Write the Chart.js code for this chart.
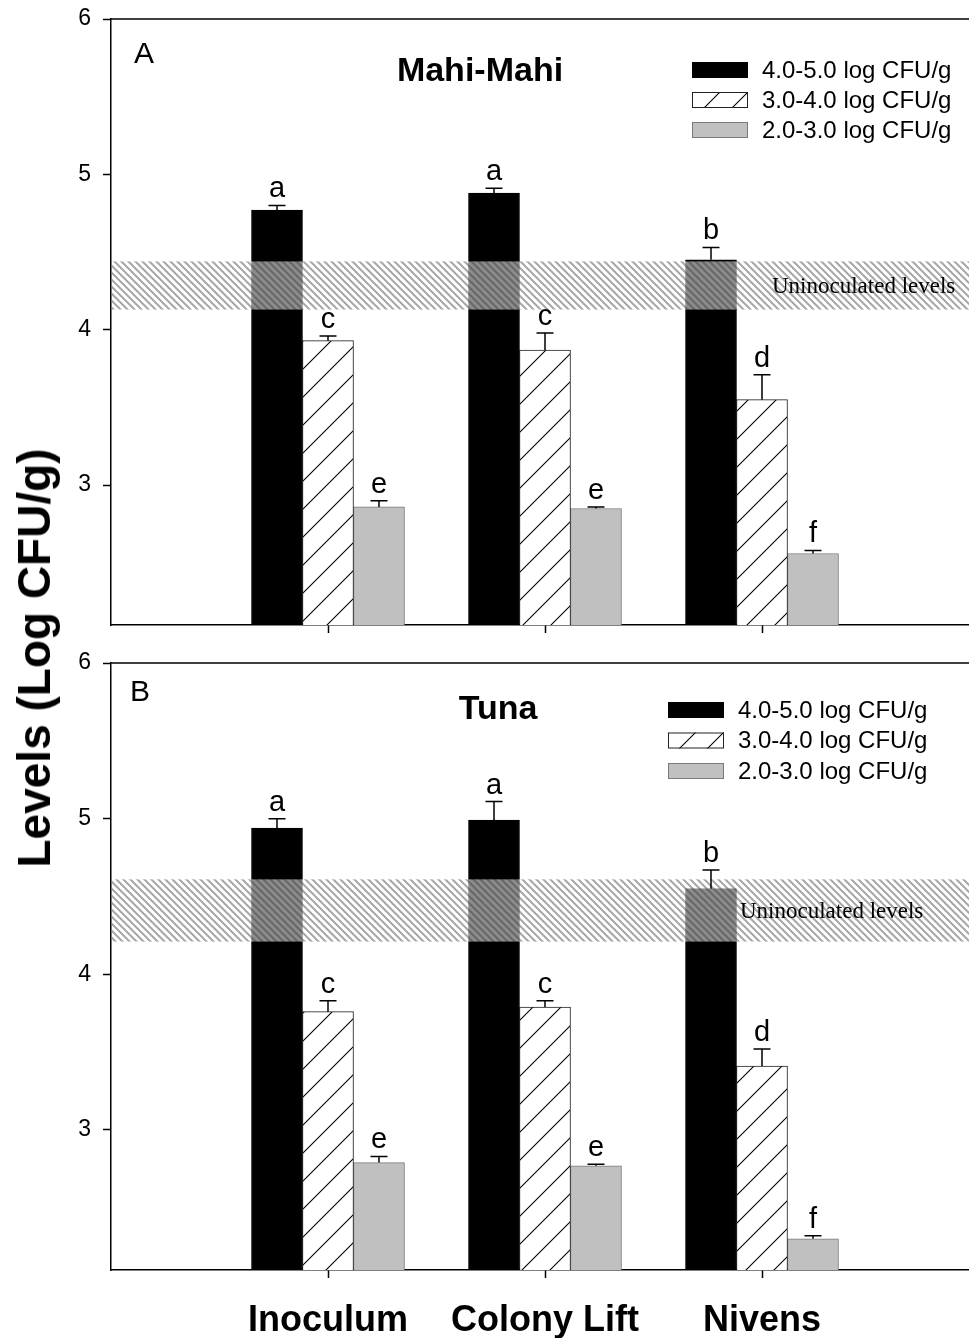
<!DOCTYPE html>
<html><head><meta charset="utf-8">
<script src="https://cdn.jsdelivr.net/npm/chart.js@4.4.1/dist/chart.umd.min.js"></script>
<style>
html,body{margin:0;padding:0;overflow:hidden;background:#fff;width:969px;height:1338px}
#wrap{position:relative;width:969px;height:1338px;overflow:hidden;background:#fff}
#c1{position:absolute;left:0;top:0}
#c2{position:absolute;left:0;top:644px}
#ytitle{position:absolute;left:34px;top:658px;transform:translate(-50%,-50%) rotate(-90deg);font:bold 46px "Liberation Sans",Arial,sans-serif;white-space:nowrap;color:#000}
</style></head><body>
<div id="wrap">
<canvas id="c1" width="1000" height="650"></canvas>
<canvas id="c2" width="1000" height="694"></canvas>
<div id="ytitle">Levels (Log CFU/g)</div>
</div>
<script>
// ---- data ----
const categories = ['Inoculum', 'Colony Lift', 'Nivens'];
const seriesLabels = ['4.0-5.0 log CFU/g', '3.0-4.0 log CFU/g', '2.0-3.0 log CFU/g'];
const yTicks = [3, 4, 5, 6];

const mahiHigh = [4.77, 4.88, 4.45];
const mahiMid  = [3.93, 3.87, 3.55];
const mahiLow  = [2.86, 2.85, 2.56];
const mahiHighErr = [0.03, 0.03, 0.08];
const mahiMidErr  = [0.03, 0.11, 0.16];
const mahiLowErr  = [0.04, 0.01, 0.02];
const mahiLetters = [['a','a','b'], ['c','c','d'], ['e','e','f']];
const mahiBand = [4.13, 4.44];

const tunaHigh = [4.94, 4.99, 4.55];
const tunaMid  = [3.76, 3.79, 3.41];
const tunaLow  = [2.79, 2.77, 2.30];
const tunaHighErr = [0.06, 0.12, 0.12];
const tunaMidErr  = [0.07, 0.04, 0.11];
const tunaLowErr  = [0.04, 0.01, 0.02];
const tunaLetters = [['a','a','b'], ['c','c','d'], ['e','e','f']];
const tunaBand = [4.21, 4.61];

// ---- patterns ----
const tmp = document.createElement('canvas').getContext('2d');
function makeHatch() {
  const t = document.createElement('canvas'); t.width = 28; t.height = 28;
  const g = t.getContext('2d');
  g.fillStyle = '#fff'; g.fillRect(0, 0, 28, 28);
  g.strokeStyle = '#000'; g.lineWidth = 1.1;
  g.beginPath();
  for (const o of [-28, 0, 28]) { g.moveTo(o - 1, 29); g.lineTo(o + 29, -1); }
  g.stroke();
  return tmp.createPattern(t, 'repeat');
}
function makeBand() {
  const t = document.createElement('canvas'); t.width = 7; t.height = 7;
  const g = t.getContext('2d');
  g.fillStyle = 'rgba(255,255,255,0.55)'; g.fillRect(0, 0, 7, 7);
  g.strokeStyle = 'rgba(60,60,60,0.45)'; g.lineWidth = 2;
  g.beginPath();
  for (const o of [-7, 0, 7]) { g.moveTo(o - 1, -1); g.lineTo(o + 8, 8); }
  g.stroke();
  return tmp.createPattern(t, 'repeat');
}
const hatch = makeHatch();
const bandPat = makeBand();

const fills = ['#000000', hatch, '#c0c0c0'];
const borders = ['#000000', '#222222', '#7a7a7a'];
const SANS = '"Liberation Sans", Arial, sans-serif';

const panelPlugin = {
  id: 'panel',
  afterDatasetsDraw(chart, args, o) {
    const { ctx, chartArea: ca, scales: { x, y } } = chart;
    ctx.save();
    // band
    const yt = y.getPixelForValue(o.band[1]), yb = y.getPixelForValue(o.band[0]);
    ctx.fillStyle = bandPat;
    ctx.fillRect(ca.left + 1, yt, chart.width - ca.left, yb - yt);
    ctx.fillStyle = '#000';
    ctx.font = '23px "Liberation Serif", "Times New Roman", serif';
    ctx.textAlign = 'left'; ctx.textBaseline = 'middle';
    ctx.fillText('Uninoculated levels', o.bandTextX, (yt + yb) / 2 + 1);
    // error bars & letters
    o.values.forEach((vals, di) => {
      const meta = chart.getDatasetMeta(di);
      vals.forEach((v, j) => {
        const el = meta.data[j + 1];
        const xc = el.x, half = el.width / 6;
        const y0 = y.getPixelForValue(v), y1 = y.getPixelForValue(v + o.errs[di][j]);
        ctx.strokeStyle = '#000'; ctx.lineWidth = 1.5;
        ctx.beginPath();
        ctx.moveTo(xc, y0); ctx.lineTo(xc, y1);
        ctx.moveTo(xc - half, y1); ctx.lineTo(xc + half, y1);
        ctx.stroke();
        ctx.fillStyle = '#000';
        ctx.font = '29px ' + SANS;
        ctx.textAlign = 'center'; ctx.textBaseline = 'alphabetic';
        ctx.fillText(o.letters[di][j], xc, y1 - 8);
      });
    });
    // top frame line
    ctx.strokeStyle = '#000'; ctx.lineWidth = 1.5;
    ctx.beginPath(); ctx.moveTo(ca.left, ca.top); ctx.lineTo(chart.width, ca.top); ctx.stroke();
    // panel letter and title
    ctx.fillStyle = '#000';
    ctx.font = '30px ' + SANS; ctx.textAlign = 'left'; ctx.textBaseline = 'middle';
    ctx.fillText(o.panel, o.panelX, o.panelY);
    ctx.font = 'bold 34px ' + SANS; ctx.textAlign = 'center';
    ctx.fillText(o.title, o.titleX, o.titleY);
    // legend
    ctx.font = '24px ' + SANS; ctx.textAlign = 'left';
    seriesLabels.forEach((lab, i) => {
      const by = o.legY + i * o.legStep;
      ctx.fillStyle = fills[i];
      ctx.fillRect(o.legX, by, 56, 16);
      ctx.strokeStyle = borders[i]; ctx.lineWidth = 1;
      ctx.strokeRect(o.legX + 0.5, by + 0.5, 55, 15);
      ctx.fillStyle = '#000';
      ctx.fillText(lab, o.legX + 70, by + 9);
    });
    ctx.restore();
  }
};

function makeChart(id, vals, errs, letters, band, cfg) {
  const ctx = document.getElementById(id);
  return new Chart(ctx, {
    type: 'bar',
    data: {
      labels: ['', ...categories, ''],
      datasets: vals.map((v, i) => ({
        label: seriesLabels[i],
        data: [null, ...v, null],
        backgroundColor: fills[i],
        borderColor: borders[i],
        borderWidth: 1,
        barThickness: 51
      }))
    },
    options: {
      responsive: false, animation: false, devicePixelRatio: 1,
      layout: { padding: { left: 0, top: 19, right: 21, bottom: 0 } },
      plugins: {
        legend: { display: false }, tooltip: { enabled: false },
        panel: Object.assign({ values: vals, errs, letters, band }, cfg)
      },
      scales: {
        x: {
          type: 'category', offset: false,
          grid: { offset: false, drawOnChartArea: false, drawTicks: true, tickLength: 8, tickWidth: 1.5,
                  tickColor: c => (c.index === 0 || c.index === 4) ? 'rgba(0,0,0,0)' : '#000' },
          border: { display: true, color: '#000', width: 1.5 },
          ticks: { display: cfg.showX, autoSkip: false, maxRotation: 0, color: '#000', padding: 21,
                   font: { family: SANS, size: 36, weight: 'bold' } },
          afterFit: s => { s.height = cfg.xH; s.paddingLeft = 0; s.paddingRight = 0; s.paddingTop = 0; s.paddingBottom = 0; }
        },
        y: {
          min: 2.1, max: 6,
          afterBuildTicks: s => { s.ticks = yTicks.map(v => ({ value: v })); },
          grid: { drawOnChartArea: false, drawTicks: true, tickLength: 8, tickWidth: 1.5, tickColor: '#000' },
          border: { display: true, color: '#000', width: 1.5 },
          ticks: { color: '#000', padding: 12, font: { family: SANS, size: 23 } },
          afterFit: s => { s.width = 111; s.paddingTop = 0; s.paddingBottom = 0; s.paddingLeft = 0; s.paddingRight = 0; }
        }
      }
    },
    plugins: [panelPlugin]
  });
}

makeChart('c1', [mahiHigh, mahiMid, mahiLow], [mahiHighErr, mahiMidErr, mahiLowErr], mahiLetters, mahiBand,
  { showX: false, xH: 25, panel: 'A', panelX: 134, panelY: 55, title: 'Mahi-Mahi', titleX: 480, titleY: 72,
    legX: 692, legY: 62, legStep: 30, bandTextX: 772 });
makeChart('c2', [tunaHigh, tunaMid, tunaLow], [tunaHighErr, tunaMidErr, tunaLowErr], tunaLetters, tunaBand,
  { showX: true, xH: 68, panel: 'B', panelX: 130, panelY: 49, title: 'Tuna', titleX: 498, titleY: 66,
    legX: 668, legY: 58, legStep: 30.5, bandTextX: 740 });
</script>
</body></html>
